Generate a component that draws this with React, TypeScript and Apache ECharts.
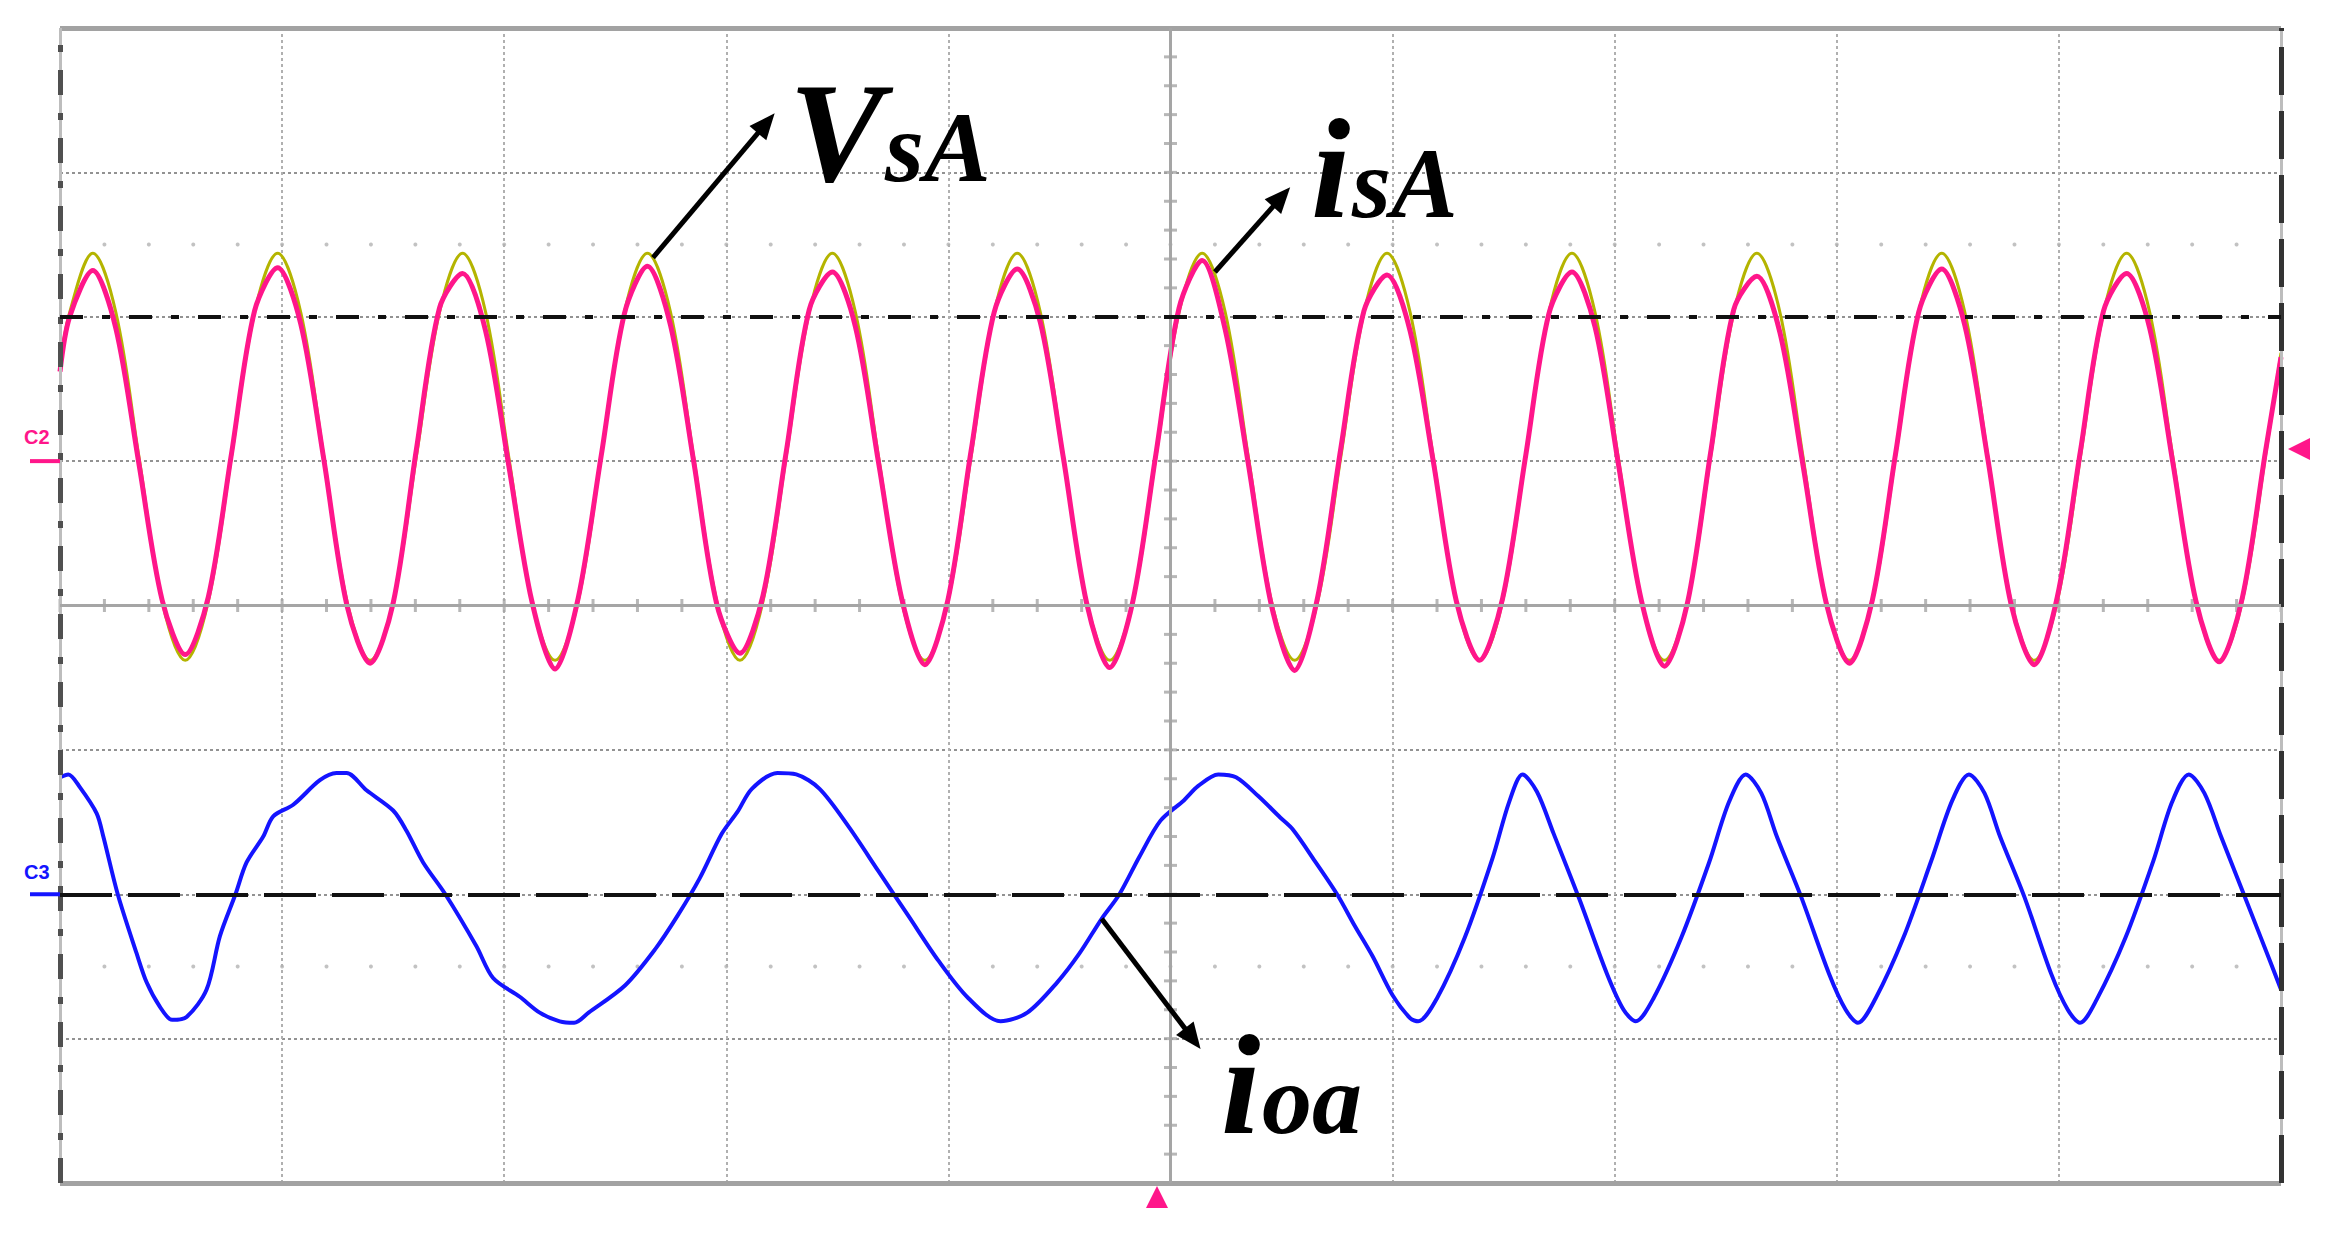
import React, { useEffect, useRef } from "react";
import * as echarts from "echarts";

// ---------- DATA (time in ms, 20 ms/div over 10 div; level in divisions, 8 div tall) ----------
const acTimes = [
  0, 0.87,
  2.95, 5.03, 7.11, 9.19, 11.28, 13.36, 15.44, 17.52,
  19.6, 21.68, 23.76, 25.84, 27.93, 30.01, 32.09, 34.17,
  36.25, 38.33, 40.41, 42.49, 44.58, 46.66, 48.74, 50.82,
  52.9, 54.98, 57.06, 59.14, 61.23, 63.31, 65.39, 67.47,
  69.55, 71.63, 73.71, 75.79, 77.88, 79.96, 82.04, 84.12,
  86.2, 88.28, 90.36, 92.44, 94.53, 96.61, 98.69, 100.77,
  102.85, 104.93, 107.01, 109.09, 111.18, 113.26, 115.34, 117.42,
  119.5, 121.58, 123.66, 125.74, 127.83, 129.91, 131.99, 134.07,
  136.15, 138.23, 140.31, 142.39, 144.48, 146.56, 148.64, 150.72,
  152.8, 154.88, 156.96, 159.04, 161.13, 163.21, 165.29, 167.37,
  169.45, 171.53, 173.61, 175.69, 177.78, 179.86, 181.94, 184.02,
  186.1, 188.18, 190.26, 192.34, 194.43, 196.51, 198.59,
  200,
];

const vsA = [
  1.65, 2.03,
  2.44, 2.03, 1.03, 0.03, -0.38, 0.03, 1.03, 2.03,
  2.44, 2.03, 1.03, 0.03, -0.38, 0.03, 1.03, 2.03,
  2.44, 2.03, 1.03, 0.03, -0.38, 0.03, 1.03, 2.03,
  2.44, 2.03, 1.03, 0.03, -0.38, 0.03, 1.03, 2.03,
  2.44, 2.03, 1.03, 0.03, -0.38, 0.03, 1.03, 2.03,
  2.44, 2.03, 1.03, 0.03, -0.38, 0.03, 1.03, 2.03,
  2.44, 2.03, 1.03, 0.03, -0.38, 0.03, 1.03, 2.03,
  2.44, 2.03, 1.03, 0.03, -0.38, 0.03, 1.03, 2.03,
  2.44, 2.03, 1.03, 0.03, -0.38, 0.03, 1.03, 2.03,
  2.44, 2.03, 1.03, 0.03, -0.38, 0.03, 1.03, 2.03,
  2.44, 2.03, 1.03, 0.03, -0.38, 0.03, 1.03, 2.03,
  2.44, 2.03, 1.03, 0.03, -0.38, 0.03, 1.03,
  1.75,
];

const isA = [
  1.62, 2.0,
  2.32, 1.92, 0.98, 0.04, -0.34, 0.06, 1.05, 2.04,
  2.34, 1.95, 1.01, 0.0, -0.4, 0.02, 1.08, 2.06,
  2.3, 1.9, 0.97, 0.03, -0.44, 0.05, 1.04, 2.02,
  2.35, 1.94, 1.0, 0.01, -0.33, 0.07, 1.06, 2.05,
  2.31, 1.93, 0.99, 0.05, -0.41, 0.04, 1.07, 2.03,
  2.33, 1.96, 1.02, 0.02, -0.43, 0.03, 1.05, 2.06,
  2.39, 1.91, 0.98, 0.0, -0.45, 0.06, 1.09, 2.04,
  2.29, 1.9, 1.0, 0.03, -0.38, 0.05, 1.04, 2.02,
  2.31, 1.93, 0.99, 0.04, -0.42, 0.02, 1.06, 2.05,
  2.28, 1.89, 0.97, 0.02, -0.4, 0.04, 1.05, 2.03,
  2.33, 1.94, 1.01, 0.01, -0.41, 0.06, 1.07, 2.04,
  2.3, 1.92, 0.99, 0.03, -0.39, 0.05, 1.06,
  1.72,
];

const ioaTimes = [
  0, 0.75, 1.8, 3.3, 3.9, 5.2, 6.9, 7.8, 9.0, 10.1, 11.4, 13.2, 14.4, 15.8, 16.8, 18.3, 19.2, 21.0,
  23.4, 24.9, 25.8, 27.6, 30.0, 31.2, 32.7, 34.7, 37.5, 39.0, 41.4, 43.2, 45.0, 46.3, 47.6, 50.9,
  53.6, 55.6, 57.6, 59.6, 61.0, 62.3, 64.6, 66.3, 68.4, 71.0, 73.7, 76.4, 79.1, 81.8, 84.7, 87.1,
  89.8, 91.8, 93.8, 95.4, 97.2, 99.1, 101.2, 102.5, 104.3, 105.9, 107.9, 109.9, 111.0, 113.0, 115.0,
  116.6, 118.2, 120.0, 121.6, 122.3,
  124.0, 126.5, 129.0, 130.5, 131.7, 133.0, 134.5, 136.8, 139.3, 140.8, 141.9,
  143.5, 146.0, 148.5, 150.3, 151.8, 153.2, 154.6, 156.8, 159.3, 160.8, 161.9,
  163.5, 166.0, 168.5, 170.4, 171.9, 173.3, 174.7, 176.9, 179.3, 180.8, 181.9,
  183.4, 186.0, 188.5, 190.2, 191.7, 193.1, 194.6, 196.8, 199.0, 200.0,
];

const ioa = [
  -1.19, -1.17, -1.26, -1.44, -1.6, -2.0, -2.41, -2.61, -2.78, -2.87, -2.85, -2.66, -2.29, -2.0, -1.78, -1.6, -1.46, -1.38,
  -1.21, -1.16, -1.16, -1.28, -1.42, -1.56, -1.78, -2.0, -2.36, -2.58, -2.71, -2.82, -2.88, -2.89, -2.82, -2.63,
  -2.38, -2.15, -1.89, -1.58, -1.43, -1.27, -1.16, -1.17, -1.27, -1.53, -1.84, -2.15, -2.46, -2.72, -2.88, -2.82,
  -2.61, -2.41, -2.17, -2.0, -1.74, -1.49, -1.35, -1.25, -1.17, -1.19, -1.32, -1.47, -1.55, -1.77, -2.0,
  -2.22, -2.43, -2.7, -2.86, -2.88,
  -2.72, -2.3, -1.75, -1.36, -1.17, -1.29, -1.58, -2.03, -2.55, -2.8, -2.88,
  -2.72, -2.3, -1.78, -1.36, -1.17, -1.3, -1.6, -2.02, -2.55, -2.8, -2.89,
  -2.72, -2.3, -1.77, -1.35, -1.17, -1.3, -1.6, -2.02, -2.55, -2.8, -2.89,
  -2.73, -2.3, -1.77, -1.36, -1.17, -1.3, -1.6, -2.03, -2.46, -2.66,
];

// reference levels (divisions)
const c2Level = 1;
const c3Level = -2;
const dashDotLevel = 2;

// annotation arrows [start, end] in (ms, div)
const arrowVsA = [[53.4, 2.41], [63.6, 3.34]];
const arrowIsA = [[104.0, 2.31], [110.0, 2.83]];
const arrowIoa = [[93.8, -2.17], [102.0, -3.0]];

// ---------- LAYOUT ----------
const GRID = { left: 60, top: 28, width: 2221, height: 1155 };
const X_MIN = 0, X_MAX = 200, X_DIV = 20;
const Y_MIN = -4, Y_MAX = 4;
const yPx = (v: number) => GRID.top + ((Y_MAX - v) / (Y_MAX - Y_MIN)) * GRID.height;

const PINK = "#ff168a";
const BLUE = "#1414ff";
const YELLOW = "#b4b400";

function App() {
  const ref = useRef<HTMLDivElement | null>(null);

  useEffect(() => {
    if (!ref.current) return;
    const chart = echarts.init(ref.current, undefined, { renderer: "svg" });

    const xTicks: number[][] = [];
    for (let x = X_MIN; x <= X_MAX + 1e-9; x += X_DIV / 5) xTicks.push([x, 0]);
    const yTicks: number[][] = [];
    for (let k = 0; k <= 40; k++) yTicks.push([100, Y_MIN + k * 0.2]);
    const dots: number[][] = [];
    for (let x = X_MIN + 4; x < X_MAX; x += X_DIV / 5) {
      dots.push([x, 2.5]);
      dots.push([x, -2.5]);
    }

    const serif = '"Liberation Serif", "Times New Roman", serif';
    const label = (text: string, x: number, y: number, size: number) => ({
      type: "text",
      z: 100,
      style: {
        text,
        x,
        y,
        fill: "#000",
        fontFamily: serif,
        fontSize: size,
        fontStyle: "italic",
        fontWeight: "bold",
        font: `italic bold ${size}px ${serif}`,
        textAlign: "left",
        textVerticalAlign: "middle",
        align: "left",
        verticalAlign: "middle",
      },
    });
    const chLabel = (text: string, y: number, color: string) => ({
      type: "text",
      z: 100,
      style: {
        text,
        x: 24,
        y,
        fill: color,
        font: 'bold 20px "Liberation Sans", Arial, sans-serif',
        fontSize: 20,
        fontWeight: "bold",
        textAlign: "left",
        textVerticalAlign: "middle",
        align: "left",
        verticalAlign: "middle",
      },
    });

    const option: any = {
      animation: false,
      backgroundColor: "#ffffff",
      grid: { ...GRID, show: false },
      xAxis: {
        type: "value",
        min: X_MIN,
        max: X_MAX,
        interval: X_DIV,
        axisLine: { show: false },
        axisTick: { show: false },
        axisLabel: { show: false },
        splitLine: { show: true, lineStyle: { color: "#b0b0b0", width: 2, type: [3, 3] } },
      },
      yAxis: {
        type: "value",
        min: Y_MIN,
        max: Y_MAX,
        interval: 1,
        axisLine: { show: false },
        axisTick: { show: false },
        axisLabel: { show: false },
        splitLine: { show: true, lineStyle: { color: "#929292", width: 2, type: [3, 3] } },
      },
      series: [
        {
          type: "line",
          data: [],
          z: 2,
          silent: true,
          markLine: {
            silent: true,
            animation: false,
            symbol: ["none", "none"],
            label: { show: false },
            emphasis: { disabled: true },
            data: [
              { yAxis: Y_MAX, lineStyle: { color: "#a2a2a2", width: 5, type: "solid" } },
              { yAxis: Y_MIN, lineStyle: { color: "#a2a2a2", width: 5, type: "solid" } },
              { xAxis: X_MIN, lineStyle: { color: "#bdbdbd", width: 3, type: "solid" } },
              { xAxis: X_MIN, lineStyle: { color: "#505050", width: 5, type: [25, 18, 7, 18] } },
              { xAxis: X_MAX, lineStyle: { color: "#bdbdbd", width: 3, type: "solid" } },
              { xAxis: X_MAX, lineStyle: { color: "#333333", width: 5, type: [48, 16] } },
              { xAxis: 100, lineStyle: { color: "#a5a5a5", width: 3, type: "solid" } },
              { yAxis: 0, lineStyle: { color: "#a5a5a5", width: 3, type: "solid" } },
              { yAxis: dashDotLevel, lineStyle: { color: "#111", width: 4, type: [23, 19, 8, 19] } },
              { yAxis: c3Level, lineStyle: { color: "#111", width: 4, type: [52, 16] } },
            ],
          },
        },
        {
          type: "scatter",
          data: xTicks,
          z: 2,
          silent: true,
          symbol: "rect",
          symbolSize: [3, 13],
          itemStyle: { color: "#a5a5a5" },
        },
        {
          type: "scatter",
          data: yTicks,
          z: 2,
          silent: true,
          symbol: "rect",
          symbolSize: [13, 3],
          itemStyle: { color: "#a5a5a5" },
        },
        {
          type: "scatter",
          data: dots,
          z: 2,
          silent: true,
          symbol: "circle",
          symbolSize: 4,
          itemStyle: { color: "#b3b3b3" },
        },
        {
          name: "VsA",
          type: "line",
          z: 3,
          data: acTimes.map((t, i) => [t, vsA[i]]),
          showSymbol: false,
          symbol: "none",
          smooth: 0.35,
          lineStyle: { color: YELLOW, width: 3 },
          emphasis: { disabled: true },
        },
        {
          name: "isA",
          type: "line",
          z: 4,
          data: acTimes.map((t, i) => [t, isA[i]]),
          showSymbol: false,
          symbol: "none",
          smooth: 0.3,
          lineStyle: { color: PINK, width: 5 },
          emphasis: { disabled: true },
        },
        {
          name: "ioa",
          type: "line",
          z: 4,
          data: ioaTimes.map((t, i) => [t, ioa[i]]),
          showSymbol: false,
          symbol: "none",
          smooth: 0.3,
          lineStyle: { color: BLUE, width: 4 },
          emphasis: { disabled: true },
        },
        {
          type: "line",
          data: [],
          z: 10,
          silent: true,
          markLine: {
            silent: true,
            animation: false,
            symbol: ["none", "triangle"],
            symbolSize: [22, 26],
            label: { show: false },
            emphasis: { disabled: true },
            lineStyle: { color: "#000", width: 5, type: "solid" },
            itemStyle: { color: "#000" },
            data: [arrowVsA, arrowIsA, arrowIoa].map((a) => [
              { coord: a[0] },
              { coord: a[1] },
            ]),
          },
        },
      ],
      graphic: [
        label("V", 789, 133, 142),
        label("sA", 885, 147, 100),
        label("i", 1311, 169, 142),
        label("sA", 1352, 183, 100),
        label("i", 1221, 1085, 142),
        label("oa", 1262, 1099, 100),
        chLabel("C2", yPx(c2Level) - 24, PINK),
        chLabel("C3", yPx(c3Level) - 22, BLUE),
        {
          type: "line",
          z: 100,
          shape: { x1: 30, y1: yPx(c2Level), x2: GRID.left, y2: yPx(c2Level) },
          style: { stroke: PINK, lineWidth: 4 },
        },
        {
          type: "line",
          z: 100,
          shape: { x1: 30, y1: yPx(c3Level), x2: GRID.left, y2: yPx(c3Level) },
          style: { stroke: BLUE, lineWidth: 4 },
        },
        {
          type: "polygon",
          z: 100,
          shape: { points: [[2288, 449], [2310, 438], [2310, 460]] },
          style: { fill: PINK },
        },
        {
          type: "polygon",
          z: 100,
          shape: { points: [[1157, 1186], [1146, 1208], [1168, 1208]] },
          style: { fill: PINK },
        },
      ],
    };

    chart.setOption(option);
    return () => chart.dispose();
  }, []);

  return (
    <div
      ref={ref}
      style={{ position: "absolute", left: 0, top: 0, width: 2335, height: 1255, background: "#fff" }}
    />
  );
}

export default App;
